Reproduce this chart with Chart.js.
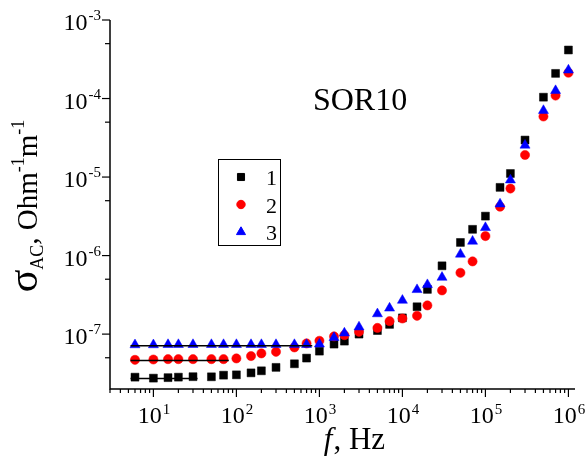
<!DOCTYPE html>
<html>
<head>
<meta charset="utf-8">
<script src="https://cdn.jsdelivr.net/npm/chart.js@4.4.1/dist/chart.umd.min.js"></script>
<style>
  html, body { margin: 0; padding: 0; background: #fff; }
  #wrap { width: 587px; height: 459px; }
</style>
</head>
<body>
<div id="wrap"><canvas id="grafico" width="587" height="459"></canvas></div>
<script>
// frequencies, Hz
const freqs = [6, 10, 15, 20, 30, 50, 70, 100, 150, 200, 300, 500, 700, 1000, 1500, 2000, 3000,
  5000, 7000, 1e4, 1.5e4, 2e4, 3e4, 5e4, 7e4, 1e5, 1.5e5, 2e5, 3e5, 5e5, 7e5, 1e6];

// sigma_AC, Ohm^-1 m^-1
const sigma1 = [2.83e-8, 2.75e-8, 2.79e-8, 2.83e-8, 2.87e-8, 2.86e-8, 3.0e-8, 3.03e-8, 3.21e-8, 3.41e-8,
  3.77e-8, 4.19e-8, 4.95e-8, 6.07e-8, 7.46e-8, 8.14e-8, 1.0e-7, 1.11e-7, 1.33e-7, 1.61e-7, 2.23e-7,
  3.71e-7, 7.41e-7, 1.47e-6, 2.16e-6, 3.18e-6, 7.39e-6, 1.11e-5, 2.96e-5, 1.04e-4, 2.09e-4, 4.15e-4];
const sigma2 = [4.7e-8, 4.75e-8, 4.8e-8, 4.8e-8, 4.8e-8, 4.8e-8, 4.8e-8, 4.9e-8, 5.25e-8, 5.68e-8,
  5.95e-8, 6.77e-8, 7.61e-8, 8.22e-8, 9.35e-8, 9.7e-8, 1.07e-7, 1.2e-7, 1.46e-7, 1.58e-7, 1.71e-7,
  2.32e-7, 3.6e-7, 6.04e-7, 8.43e-7, 1.77e-6, 4.19e-6, 7.14e-6, 1.91e-5, 5.9e-5, 1.09e-4, 2.13e-4];
const sigma3 = [7.3e-8, 7.3e-8, 7.35e-8, 7.35e-8, 7.35e-8, 7.35e-8, 7.35e-8, 7.35e-8, 7.35e-8, 7.35e-8,
  7.35e-8, 7.35e-8, 7.35e-8, 7.46e-8, 9.02e-8, 1.03e-7, 1.23e-7, 1.81e-7, 2.14e-7, 2.69e-7, 3.68e-7,
  4.26e-7, 5.28e-7, 1.04e-6, 1.52e-6, 2.27e-6, 4.53e-6, 9.16e-6, 2.54e-5, 7.03e-5, 1.26e-4, 2.3e-4];

// horizontal fits of the low frequency plateau
const fit1X = [5.3, 34], fit1Y = [2.73e-8, 2.73e-8];
const fit2X = [5.3, 81], fit2Y = [4.62e-8, 4.62e-8];
const fit3X = [5.3, 820], fit3Y = [7.1e-8, 7.1e-8];

const seriesLabels = ['1', '2', '3'];
const xTickExps = [1, 2, 3, 4, 5, 6];
const yTickExps = [-7, -6, -5, -4, -3];
const sampleName = 'SOR10';

const serif = '"Liberation Serif", "Times New Roman", serif';

function pts(xs, ys) { return xs.map((x, i) => ({ x: x, y: ys[i] })); }

const markers = [
  { style: 'rect', color: '#000000', radius: 5.6, lgRadius: 5 },
  { style: 'circle', color: '#ff0000', radius: 4.6, lgRadius: 4.2 },
  { style: 'triangle', color: '#0000ff', radius: 5.8, lgRadius: 5.2 }
];

function fitSet(xs, ys) {
  return { data: pts(xs, ys), showLine: true, borderColor: '#000', borderWidth: 1.5,
    pointRadius: 0, order: 0 };
}
function markSet(i, ys) {
  const m = markers[i];
  return { label: seriesLabels[i], data: pts(freqs, ys), pointStyle: m.style, pointRadius: m.radius,
    backgroundColor: m.color, borderColor: m.color, borderWidth: 0.5, showLine: false, order: 3 - i };
}

function drawPow(ctx, x, y, exp, big, small, align, raise) {
  ctx.font = big + 'px ' + serif;
  const wb = ctx.measureText('10').width;
  ctx.font = small + 'px ' + serif;
  const ws = ctx.measureText(exp).width;
  let x0 = x;
  if (align === 'right') x0 = x - wb - ws;
  if (align === 'center') x0 = x - (wb + ws) / 2;
  ctx.textAlign = 'left';
  ctx.textBaseline = 'alphabetic';
  ctx.font = big + 'px ' + serif;
  ctx.fillText('10', x0, y);
  ctx.font = small + 'px ' + serif;
  ctx.fillText(exp, x0 + wb + 1, y - raise);
}

const axesPlugin = {
  id: 'axesPlugin',
  afterDraw(chart) {
    const ctx = chart.ctx;
    const xs = chart.scales.x, ys = chart.scales.y;
    const a = chart.chartArea;
    ctx.save();
    ctx.strokeStyle = '#000';
    ctx.fillStyle = '#000';
    ctx.lineWidth = 1.5;
    // axis lines
    ctx.beginPath();
    ctx.moveTo(a.left, a.top);
    ctx.lineTo(a.left, a.bottom);
    ctx.lineTo(a.right, a.bottom);
    ctx.stroke();

    // x ticks
    ctx.lineWidth = 1.2;
    for (let d = 0; d <= 6; d++) {
      for (let m = 1; m <= 9; m++) {
        const v = m * Math.pow(10, d);
        if (v < xs.min || v > xs.max) continue;
        const px = xs.getPixelForValue(v);
        const len = m === 1 ? 8 : 4;
        ctx.beginPath();
        ctx.moveTo(px, a.bottom);
        ctx.lineTo(px, a.bottom + len);
        ctx.stroke();
      }
    }
    // y ticks
    for (let e = -8; e <= -3; e++) {
      [[1, 8], [5, 5]].forEach(([m, len]) => {
        const v = m * Math.pow(10, e);
        if (v < ys.min * 0.999 || v > ys.max * 1.001) return;
        const py = ys.getPixelForValue(v);
        ctx.beginPath();
        ctx.moveTo(a.left, py);
        ctx.lineTo(a.left - len, py);
        ctx.stroke();
      });
    }

    // tick labels
    xTickExps.forEach(e => {
      const px = xs.getPixelForValue(Math.pow(10, e));
      drawPow(ctx, px, a.bottom + 34, String(e), 24, 15, 'center', 9);
    });
    yTickExps.forEach(e => {
      const py = ys.getPixelForValue(Math.pow(10, e));
      drawPow(ctx, 100, py + 10, '-' + (-e), 24, 15, 'right', 10);
    });

    // x title
    ctx.textBaseline = 'alphabetic';
    ctx.textAlign = 'left';
    ctx.font = 'italic 31px ' + serif;
    const wf = ctx.measureText('f').width;
    ctx.font = '31px ' + serif;
    const wr = ctx.measureText(', Hz').width;
    let tx = 354 - (wf + wr) / 2;
    ctx.font = 'italic 31px ' + serif;
    ctx.fillText('f', tx, 449);
    ctx.font = '31px ' + serif;
    ctx.fillText(', Hz', tx + wf + 1, 449);

    // y title (rotated)
    const parts = [
      { t: '\u03c3', size: 42, dy: 0 },
      { t: 'AC', size: 18, dy: 6 },
      { t: ', Ohm', size: 29, dy: 0 },
      { t: '-1', size: 18, dy: -13 },
      { t: 'm', size: 29, dy: 0 },
      { t: '-1', size: 18, dy: -13 }
    ];
    let total = 0;
    parts.forEach(p => { ctx.font = p.size + 'px ' + serif; p.w = ctx.measureText(p.t).width; total += p.w; });
    ctx.save();
    ctx.translate(37, 206);
    ctx.rotate(-Math.PI / 2);
    let cx = -total / 2;
    parts.forEach(p => {
      ctx.font = p.size + 'px ' + serif;
      ctx.fillText(p.t, cx, p.dy);
      cx += p.w;
    });
    ctx.restore();

    // sample name
    ctx.font = '32px ' + serif;
    ctx.textAlign = 'center';
    ctx.fillText(sampleName, 360, 110);

    // legend box
    ctx.lineWidth = 1;
    ctx.strokeRect(218.5, 159.5, 62, 86);
    const rows = [177, 204.5, 232];
    ctx.font = '22px ' + serif;
    ctx.textAlign = 'left';
    seriesLabels.forEach((lab, i) => {
      const m = markers[i];
      ctx.fillStyle = m.color;
      ctx.strokeStyle = m.color;
      Chart.helpers.drawPoint(ctx, { pointStyle: m.style, radius: m.lgRadius, borderWidth: 0.5, rotation: 0 }, 241, rows[i]);
      ctx.fillStyle = '#000';
      ctx.fillText(lab, 266, rows[i] + 8);
    });
    ctx.restore();
  }
};

const ctx = document.getElementById('grafico').getContext('2d');
const grafico = new Chart(ctx, {
  type: 'scatter',
  data: {
    datasets: [
      fitSet(fit3X, fit3Y),
      fitSet(fit2X, fit2Y),
      fitSet(fit1X, fit1Y),
      markSet(2, sigma3),
      markSet(1, sigma2),
      markSet(0, sigma1)
    ]
  },
  options: {
    responsive: false,
    animation: false,
    devicePixelRatio: 1,
    layout: { padding: { top: 20, right: 12, left: 0, bottom: 0 } },
    plugins: { legend: { display: false }, tooltip: { enabled: false } },
    scales: {
      x: {
        type: 'logarithmic', min: 3, max: 1.2e6,
        grid: { display: false }, border: { display: false }, ticks: { display: false },
        afterFit: s => { s.height = 70; }
      },
      y: {
        type: 'logarithmic', min: 2e-8, max: 1e-3,
        grid: { display: false }, border: { display: false }, ticks: { display: false },
        afterFit: s => { s.width = 110; }
      }
    }
  },
  plugins: [axesPlugin]
});
</script>
</body>
</html>
